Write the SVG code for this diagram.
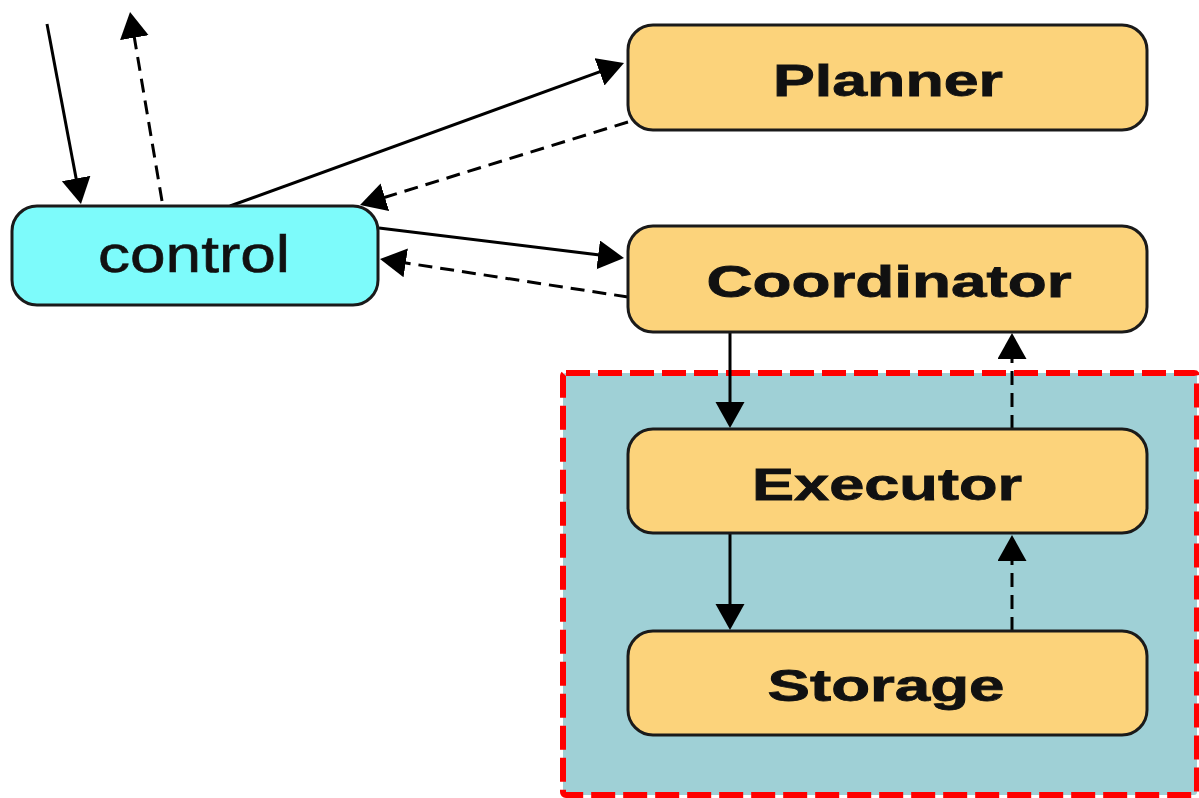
<svg xmlns="http://www.w3.org/2000/svg" width="1199" height="798" viewBox="0 0 1199 798">
  <defs>
    <style>
      .box { fill: #fcd37b; stroke: #1a1a1a; stroke-width: 3; }
      .ctl { fill: #7dfbfb; stroke: #1a1a1a; stroke-width: 3; }
      .lbl { font-family: "Liberation Sans", Arial, sans-serif; font-weight: bold; font-size: 44px; fill: #111; stroke: #111; stroke-width: 0.8; text-anchor: middle; }
      .lbl-n { font-family: "Liberation Sans", Arial, sans-serif; font-size: 52px; fill: #111; stroke: #111; stroke-width: 0.6; text-anchor: middle; }
      .solid { fill: none; stroke: #000; stroke-width: 3; marker-end: url(#head); }
      .dash { fill: none; stroke: #000; stroke-width: 3; stroke-dasharray: 14 8; marker-end: url(#head); }
      .zone { fill: #9fd0d6; stroke: #ff0000; stroke-width: 6; stroke-dasharray: 24 8; }
    </style>
    <marker id="head" markerUnits="userSpaceOnUse" markerWidth="28" markerHeight="30" refX="16" refY="14.5" orient="auto">
      <path d="M0,0 L26,14.5 L0,29 Z" fill="#000" stroke="none"/>
    </marker>
  </defs>

  <rect width="1199" height="798" fill="#ffffff"/>

  <!-- execution zone -->
  <g id="zone">
    <rect class="zone" x="563" y="373" width="634" height="422" rx="3"/>
  </g>

  <!-- connectors -->
  <g id="connectors">
    <line class="solid" x1="47" y1="24" x2="79.1" y2="194.2"/>
    <line class="dash" x1="162" y1="201" x2="131.7" y2="21.9"/>
    <line class="solid" x1="230" y1="206" x2="614.6" y2="66.4"/>
    <line class="dash" x1="628" y1="122" x2="369.6" y2="202"/>
    <line class="solid" x1="379" y1="228" x2="614.1" y2="256.8"/>
    <line class="dash" x1="628" y1="297" x2="389.9" y2="260.5"/>
    <line class="solid" x1="730" y1="332" x2="730" y2="418"/>
    <line class="dash" x1="1012" y1="429" x2="1012" y2="343"/>
    <line class="solid" x1="730" y1="533" x2="730" y2="620"/>
    <line class="dash" x1="1012" y1="631" x2="1012" y2="545"/>
  </g>

  <g id="control">
    <rect class="ctl" x="12" y="206" width="366" height="99" rx="25"/>
    <text class="lbl-n" x="194" y="272" textLength="192" lengthAdjust="spacingAndGlyphs">control</text>
  </g>

  <g id="planner">
    <rect class="box" x="628" y="25" width="519" height="105" rx="25"/>
    <text class="lbl" x="888" y="96" textLength="230" lengthAdjust="spacingAndGlyphs">Planner</text>
  </g>

  <g id="coordinator">
    <rect class="box" x="628" y="226" width="519" height="106" rx="25"/>
    <text class="lbl" x="889" y="297" textLength="365" lengthAdjust="spacingAndGlyphs">Coordinator</text>
  </g>

  <g id="executor">
    <rect class="box" x="628" y="429" width="519" height="104" rx="25"/>
    <text class="lbl" x="887" y="500" textLength="270" lengthAdjust="spacingAndGlyphs">Executor</text>
  </g>

  <g id="storage">
    <rect class="box" x="628" y="631" width="519" height="104" rx="25"/>
    <text class="lbl" x="886" y="701" textLength="237" lengthAdjust="spacingAndGlyphs">Storage</text>
  </g>
</svg>
